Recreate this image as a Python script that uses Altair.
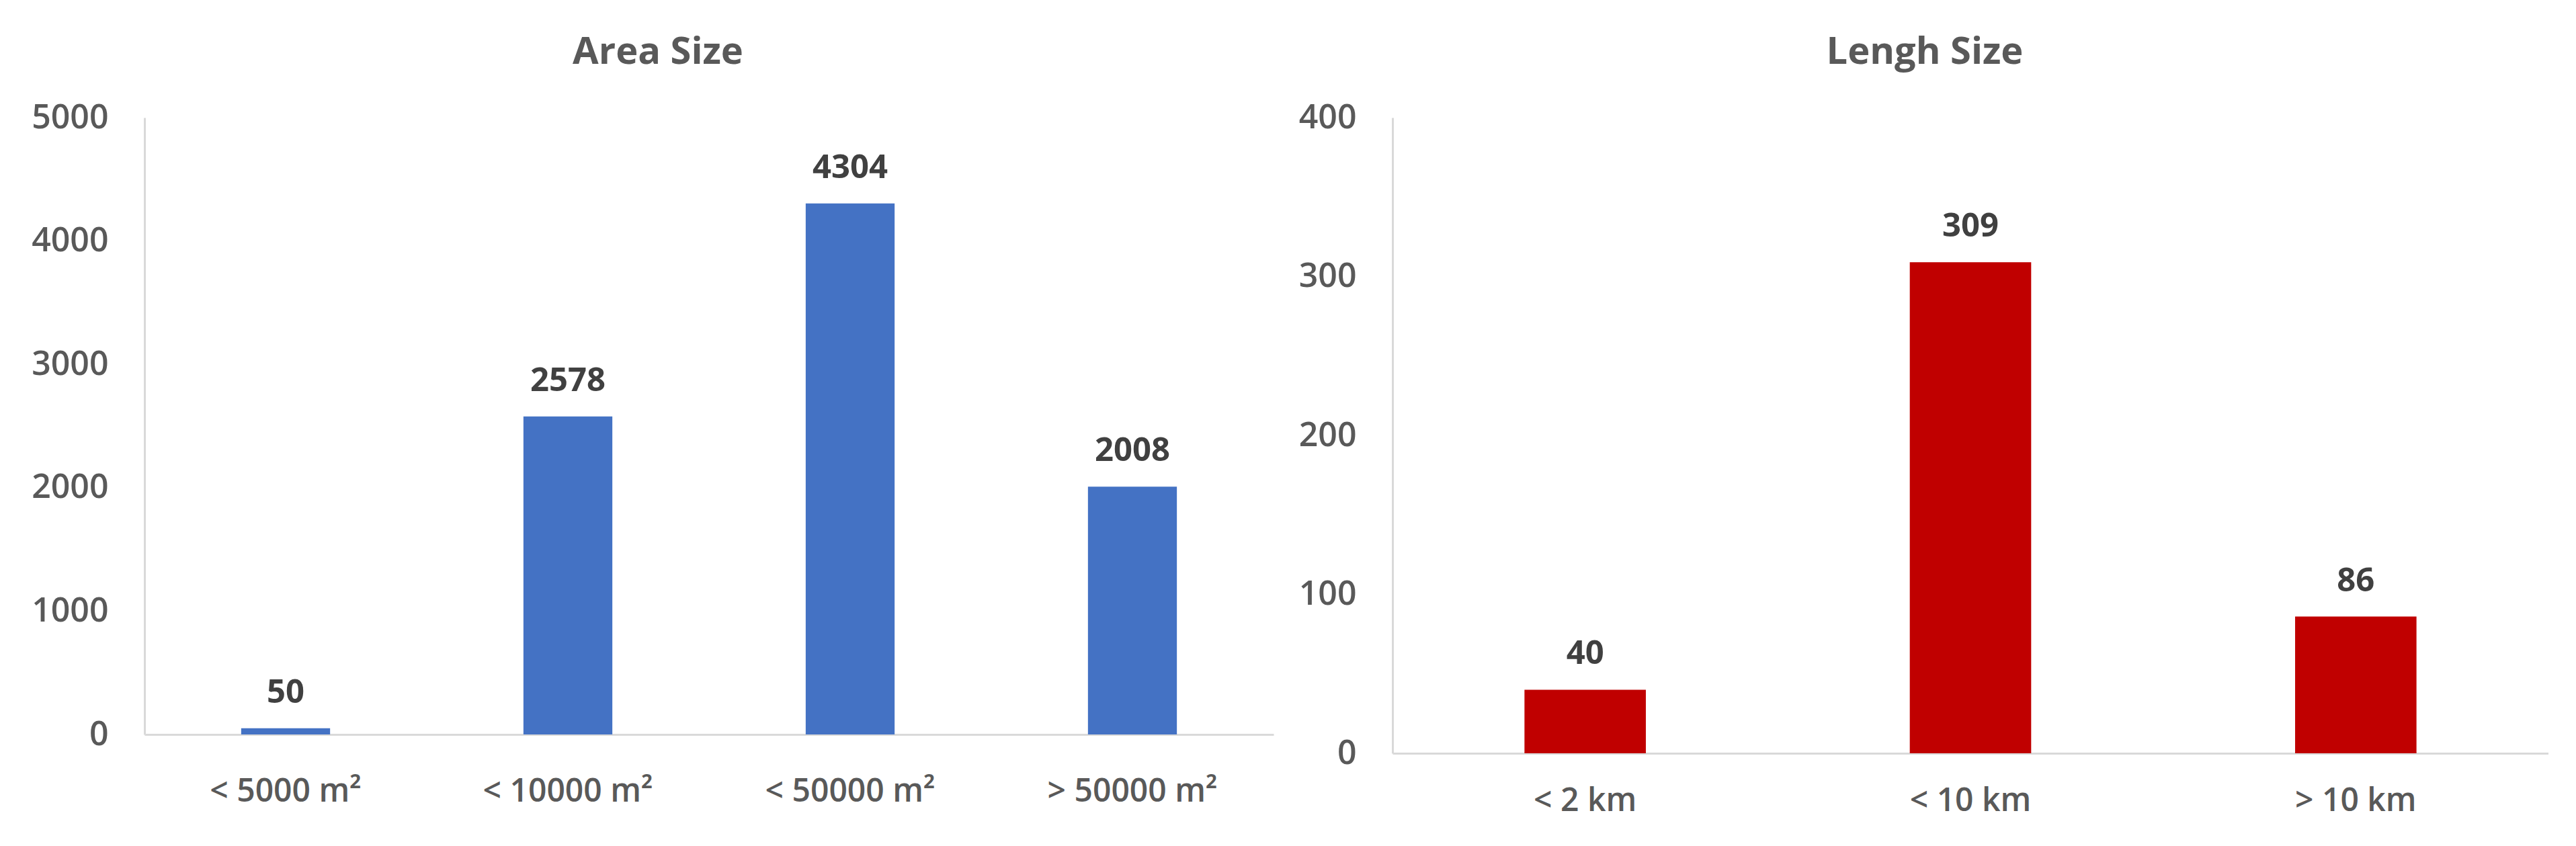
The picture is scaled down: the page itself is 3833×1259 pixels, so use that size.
import altair as alt
import pandas as pd

area_categories = ["< 5000  m²", "< 10000  m²", "< 50000  m²", "> 50000  m²"]
area_values = [50, 2578, 4304, 2008]
area_ticks = [0, 1000, 2000, 3000, 4000, 5000]

length_categories = ["< 2 km", "< 10 km", "> 10 km"]
length_values = [40, 309, 86]
length_ticks = [0, 100, 200, 300, 400]

FONT = "Open Sans"
LABEL_GRAY = "#595959"
VALUE_GRAY = "#404040"
AXIS_GRAY = "#D9D9D9"


def make_panel(cats, vals, ticks, color, title, width, height, title_dx,
               title_offset, xpad):
    df = pd.DataFrame({"cat": cats, "val": vals})
    x = alt.X(
        "cat:N",
        sort=cats,
        title=None,
        scale=alt.Scale(paddingInner=0.685, paddingOuter=0.3425),
        axis=alt.Axis(
            labelAngle=0,
            labelFontSize=48,
            labelFont=FONT,
            labelFontWeight=600,
            labelColor=LABEL_GRAY,
            labelPadding=xpad,
            labelBaseline="middle",
            labelLimit=0,
            ticks=False,
            domainColor=AXIS_GRAY,
            domainWidth=3,
            grid=False,
        ),
    )
    y = alt.Y(
        "val:Q",
        title=None,
        scale=alt.Scale(domain=[ticks[0], ticks[-1]], nice=False),
        axis=alt.Axis(
            values=ticks,
            format="d",
            labelFontSize=50,
            labelFont=FONT,
            labelFontWeight=600,
            labelColor=LABEL_GRAY,
            labelPadding=54,
            labelLimit=0,
            ticks=False,
            domainColor=AXIS_GRAY,
            domainWidth=3,
            grid=False,
        ),
    )
    base = alt.Chart(df)
    bars = base.mark_bar(color=color).encode(x=x, y=y)
    text = base.mark_text(
        baseline="middle",
        dy=-53,
        fontSize=49,
        fontWeight="bold",
        font=FONT,
        color=VALUE_GRAY,
    ).encode(x=x, y=y, text="val:Q")
    return alt.layer(bars, text).properties(
        width=width,
        height=height,
        title=alt.TitleParams(
            text=title,
            fontSize=56,
            fontWeight="bold",
            font=FONT,
            color=LABEL_GRAY,
            anchor="middle",
            baseline="middle",
            offset=title_offset,
            dx=title_dx,
        ),
    )


left = make_panel(area_categories, area_values, area_ticks, "#4472C4",
                  "Area Size", 1680, 918, -76, 16, 85)
right = make_panel(length_categories, length_values, length_ticks, "#C00000",
                   "Lengh Size", 1720, 946, -68, 16, 71)

chart = alt.hconcat(left, right, spacing=37).properties(
    padding={"left": 38, "top": 42, "right": 0, "bottom": 30}
).configure(
    font=FONT,
    background="white",
    view=alt.ViewConfig(stroke="transparent", strokeWidth=0),
)

chart.save("out.html", embed_options={"renderer": "svg", "actions": False})
